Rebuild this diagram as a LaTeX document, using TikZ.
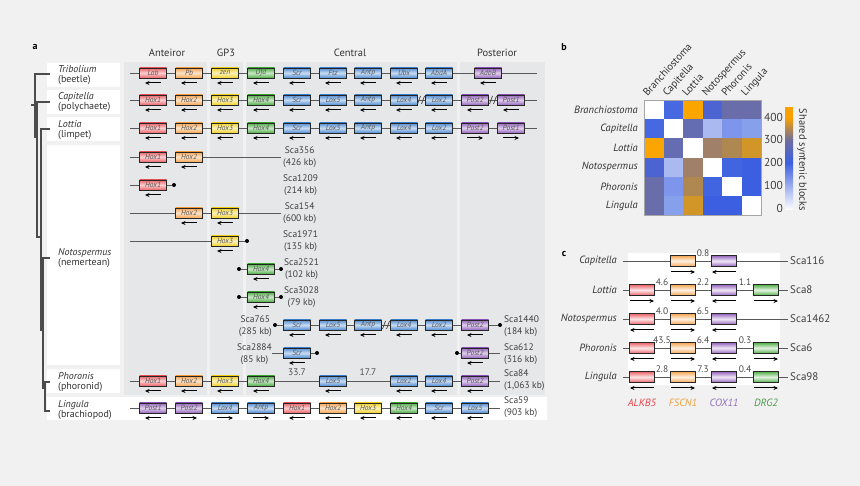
\documentclass[tikz,border=0pt]{standalone}
\usepackage{fontspec}
\setmainfont{PT Sans}
\usepackage{tikz}
\usetikzlibrary{arrows.meta,positioning,calc}

\definecolor{bgc}{RGB}{241,241,241}
\definecolor{colbg}{RGB}{229,231,232}
\definecolor{hxred}{RGB}{236,98,104}
\definecolor{hxorange}{RGB}{245,165,80}
\definecolor{hxyellow}{RGB}{240,210,40}
\definecolor{hxgreen}{RGB}{80,175,70}
\definecolor{hxblue}{RGB}{80,140,210}
\definecolor{hxpurple}{RGB}{150,100,190}
\definecolor{hmB}{RGB}{70,105,225}
\definecolor{hmO}{RGB}{250,165,0}
\definecolor{hmN}{RGB}{75,100,210}
\definecolor{hmS}{RGB}{105,110,170}
\definecolor{hmSb}{RGB}{100,108,178}
\definecolor{hmL}{RGB}{170,185,240}
\definecolor{hmM}{RGB}{125,150,235}
\definecolor{hmMb}{RGB}{135,160,235}
\definecolor{hmBr}{RGB}{160,128,105}
\definecolor{hmT}{RGB}{175,135,80}
\definecolor{hmOc}{RGB}{210,150,40}
\definecolor{hmBb}{RGB}{65,100,225}
\definecolor{hmBc}{RGB}{60,95,225}
\definecolor{cbB}{RGB}{60,95,225}
\definecolor{cbS}{RGB}{110,110,160}
\definecolor{cbO}{RGB}{250,160,0}
\definecolor{nmred}{RGB}{232,66,74}
\definecolor{nmorange}{RGB}{240,160,64}
\definecolor{nmpurple}{RGB}{144,112,192}
\definecolor{nmgreen}{RGB}{74,154,74}

\tikzset{
  gbox/.style={draw=black!85, line width=0.9pt, minimum width=27pt, minimum height=10pt,
    inner sep=0pt, font=\fontsize{7.5}{8}\selectfont\itshape, text=black!65},
  hxa/.style={gbox, top color=hxred, bottom color=hxred, middle color=hxred!30!white},
  hxb/.style={gbox, top color=hxorange, bottom color=hxorange, middle color=hxorange!30!white},
  hxc/.style={gbox, top color=hxyellow, bottom color=hxyellow, middle color=hxyellow!30!white},
  hxd/.style={gbox, top color=hxgreen, bottom color=hxgreen, middle color=hxgreen!30!white},
  hxe/.style={gbox, top color=hxblue, bottom color=hxblue, middle color=hxblue!30!white},
  hxf/.style={gbox, top color=hxpurple, bottom color=hxpurple, middle color=hxpurple!30!white},
  cbox/.style={gbox, minimum width=25pt, minimum height=11pt},
  cak/.style={cbox, top color=hxred, bottom color=hxred, middle color=hxred!15!white},
  cfs/.style={cbox, top color=hxorange, bottom color=hxorange, middle color=hxorange!15!white},
  ccx/.style={cbox, top color=hxpurple, bottom color=hxpurple, middle color=hxpurple!15!white},
  cdr/.style={cbox, top color=hxgreen, bottom color=hxgreen, middle color=hxgreen!15!white},
  lft/.style={{Stealth[length=4.5pt,width=4pt]}-, line width=1pt},
  rgt/.style={-{Stealth[length=4.5pt,width=4pt]}, line width=1pt},
  bb/.style={draw=black!65, line width=0.9pt},
  brkline/.style={draw=black!75, line width=0.7pt},
  enddot/.style={circle, fill=black, inner sep=0pt, minimum size=4pt},
  tree/.style={draw=black!70, line width=1.1pt},
  sp/.style={anchor=west, align=left, inner sep=0pt, font=\fontsize{10}{10.5}\selectfont, text=black!80},
  hdr/.style={font=\fontsize{10.5}{12}\selectfont, text=black!80},
  sca/.style={inner sep=0pt, align=center, font=\fontsize{9.5}{12}\selectfont, text=black!75},
  num/.style={inner sep=0pt, font=\fontsize{9.5}{11}\selectfont, text=black!70},
  plbl/.style={font=\bfseries\fontsize{10}{12}\selectfont},
  rowl/.style={anchor=east, inner sep=0pt, font=\fontsize{10.5}{12}\selectfont\itshape, text=black!80},
  coll/.style={anchor=base west, rotate=48, inner sep=0pt, font=\fontsize{10.5}{12}\selectfont, text=black!80},
}

\newcommand{\generow}[3]{%
  \foreach \gx/\gs/\gl/\gd [count=\gj] in {#3}{%
    \node[\gs] (#1\gj) at (\gx,#2) {\gl};
    \draw[\gd] ([shift={(-8,10)}]#1\gj.center) -- ([shift={(8,10)}]#1\gj.center);
  }}
\newcommand{\cgrow}[3]{%
  \foreach \gx/\gs/\gd [count=\gj] in {#3}{%
    \node[\gs] (#1\gj) at (\gx,#2) {};
    \draw[\gd] ([shift={(-12,11)}]#1\gj.center) -- ([shift={(12,11)}]#1\gj.center);
  }}
\newcommand{\brk}[2]{\draw[brkline] (#1-3.5,#2+4) -- (#1-0.5,#2-4) (#1+0.5,#2+4) -- (#1+3.5,#2-4);}

\begin{document}
\begin{tikzpicture}[x=1pt,y=-1pt]
\useasboundingbox[fill=bgc] (0,0) rectangle (860,486);

% panel a
\node[plbl] (lbla) at (35,47) {a};
\fill[colbg] (124,62) rectangle (207,395);
\fill[colbg] (210,62) rectangle (243,395);
\fill[colbg] (246,62) rectangle (457,395);
\fill[colbg] (460,62) rectangle (545,395);
\fill[white] (47,397) rectangle (547,420);
\foreach \ya/\yb in {63/87,90/114,117/141,145/365,369/393}
  \fill[white] (47,\ya) rectangle (120,\yb);

\node[hdr] (ant) at (167,53) {Anteiror};
\node[hdr] (gp3) at (226,53) {GP3};
\node[hdr] (cen) at (350,53) {Central};
\node[hdr] (pos) at (497,53) {Posterior};

\node[sp] (tri) at (58,75) {\textit{Tribolium}\\(beetle)};
\node[sp] (cap) at (58,102) {\textit{Capitella}\\(polychaete)};
\node[sp] (lot) at (58,130) {\textit{Lottia}\\(limpet)};
\node[sp] (not) at (58,258) {\textit{Notospermus}\\(nemertean)};
\node[sp] (pho) at (58,382) {\textit{Phoronis}\\(phoronid)};
\node[sp] (lin) at (58,410) {\textit{Lingula}\\(brachiopod)};

\draw[tree] (31,105) -- (35,105) (50,74) -| (35,137) -- (37,137);
\draw[tree] (50,102) -| (37,237) -- (41,237);
\draw[tree] (50,129) -| (41,330) -- (43,330);
\draw[tree] (50,258) -| (43,388) -- (45,388);
\draw[tree] (50,382) -| (45,411) -- (50,411);

% Tribolium
\coordinate (tr0) at (130,73); \coordinate (trE) at (537,73);
\draw[bb] (tr0) -- (trE);
\generow{tr}{73}{153/hxa/Lab/lft, 189/hxb/Pb/lft, 225/hxc/zen/lft, 261/hxd/Dfd/lft, 297/hxe/Scr/lft,
  333/hxe/Ftz/lft, 368/hxe/Antp/lft, 404/hxe/Ubx/lft, 439/hxe/AbdA/lft, 488/hxf/AdbB/lft}

% Capitella
\coordinate (ca0) at (130,100); \coordinate (caE) at (537,100);
\draw[bb] (ca0) -- (caE);
\generow{ca}{100}{153/hxa/Hox1/lft, 189/hxb/Hox2/lft, 225/hxc/Hox3/lft, 261/hxd/Hox4/lft, 297/hxe/Scr/lft,
  333/hxe/Lox5/lft, 368/hxe/Antp/lft, 404/hxe/Lox4/lft, 439/hxe/Lox2/lft, 475/hxf/Post2/lft, 511/hxf/Post1/lft}
\brk{421}{100}
\brk{493}{100}

% Lottia
\coordinate (lo0) at (130,128); \coordinate (loE) at (537,128);
\draw[bb] (lo0) -- (loE);
\generow{lo}{128}{153/hxa/Hox1/lft, 189/hxb/Hox2/lft, 225/hxc/Hox3/lft, 261/hxd/Hox4/lft, 297/hxe/Scr/lft,
  333/hxe/Lox5/lft, 368/hxe/Antp/lft, 404/hxe/Lox4/lft, 439/hxe/Lox2/lft, 475/hxf/Post2/rgt, 511/hxf/Post1/rgt}

% Notospermus scaffolds
\coordinate (sa0) at (130,157); \coordinate (saE) at (281,157);
\draw[bb] (sa0) -- (saE);
\generow{sa}{157}{153/hxa/Hox1/lft, 189/hxb/Hox2/lft}
\node[sca, anchor=west] (saL) at (283,157) {Sca356\\(426 kb)};

\coordinate (sb0) at (130,185); \node[enddot] (sbE) at (174,185) {};
\draw[bb] (sb0) -- (sbE);
\generow{sb}{185}{153/hxa/Hox1/lft}
\node[sca, anchor=west] (sbL) at (283,185) {Sca1209\\(214 kb)};

\coordinate (sc0) at (130,213); \coordinate (scE) at (281,213);
\draw[bb] (sc0) -- (scE);
\generow{sc}{213}{189/hxb/Hox2/lft, 225/hxc/Hox3/lft}
\node[sca, anchor=west] (scL) at (283,213) {Sca154\\(600 kb)};

\coordinate (sd0) at (130,241); \node[enddot] (sdE) at (247,241) {};
\draw[bb] (sd0) -- (sdE);
\generow{sd}{241}{225/hxc/Hox3/lft}
\node[sca, anchor=west] (sdL) at (283,241) {Sca1971\\(135 kb)};

\node[enddot] (se0) at (239,269) {}; \node[enddot] (seE) at (281,269) {};
\draw[bb] (se0) -- (seE);
\generow{se}{269}{261/hxd/Hox4/lft}
\node[sca, anchor=west] (seL) at (284,269) {Sca2521\\(102 kb)};

\node[enddot] (sf0) at (239,297) {}; \node[enddot] (sfE) at (281,297) {};
\draw[bb] (sf0) -- (sfE);
\generow{sf}{297}{261/hxd/Hox4/lft}
\node[sca, anchor=west] (sfL) at (284,297) {Sca3028\\(79 kb)};

\node[enddot] (sg0) at (275,325) {}; \node[enddot] (sgE) at (500,325) {};
\draw[bb] (sg0) -- (sgE);
\generow{sg}{325}{297/hxe/Scr/lft, 333/hxe/Lox5/lft, 368/hxe/Antp/lft, 404/hxe/Lox4/lft, 439/hxe/Lox2/lft, 475/hxf/Post2/lft}
\brk{386}{325}
\node[sca, anchor=east] (sgL) at (272,326) {Sca765\\(285 kb)};
\node[sca, anchor=west, align=left] (sgR) at (504,326) {Sca1440\\(184 kb)};

\coordinate (sh0) at (272,353); \node[enddot] (shE) at (317,353) {};
\draw[bb] (sh0) -- (shE);
\node[enddot] (si0) at (457,353) {}; \coordinate (siE) at (500,353);
\draw[bb] (si0) -- (siE);
\generow{sh}{353}{297/hxe/Scr/lft}
\generow{si}{353}{475/hxf/Post2/lft}
\node[sca, anchor=east] (shL) at (272,354) {Sca2884\\(85 kb)};
\node[sca, anchor=west, align=left] (siR) at (504,354) {Sca612\\(316 kb)};

% Phoronis
\coordinate (ph0) at (130,381); \coordinate (phE) at (500,381);
\draw[bb] (ph0) -- (phE);
\generow{ph}{381}{153/hxa/Hox1/lft, 189/hxb/Hox2/lft, 225/hxc/Hox3/lft, 261/hxd/Hox4/lft,
  333/hxe/Lox5/lft, 404/hxe/Lox2/lft, 439/hxe/Lox4/lft, 475/hxf/Post2/lft}
\node[num] (phd1) at (297,372) {33.7};
\node[num] (phd2) at (368,372) {17.7};
\node[sca, anchor=west, align=left] (phR) at (504,380) {Sca84\\(1,063 kb)};

% Lingula
\coordinate (li0) at (130,408); \coordinate (liE) at (500,408);
\draw[bb] (li0) -- (liE);
\generow{li}{408}{153/hxf/Post1/lft, 189/hxf/Post2/rgt, 225/hxe/Lox4/rgt, 261/hxe/Antp/rgt, 297/hxa/Hox1/lft,
  333/hxb/Hox2/lft, 368/hxc/Hox3/lft, 404/hxd/Hox4/lft, 439/hxe/Scr/lft, 475/hxe/Lox5/lft}
\node[sca, anchor=west, align=left] (liR) at (504,407) {Sca59\\(903 kb)};

% panel b
\node[plbl] (lblb) at (564,47) {b};
\foreach \rc [count=\i] in {{white,hmB,hmO,hmN,hmS,hmS},{hmB,white,hmSb,hmL,hmM,hmMb},
    {hmO,hmSb,white,hmBr,hmT,hmOc},{hmN,hmL,hmBr,white,hmBb,hmBc},
    {hmS,hmM,hmT,hmBb,white,hmBc},{hmS,hmMb,hmOc,hmBc,hmBc,white}}{
  \foreach \cc [count=\j] in \rc
    \fill[\cc] (624.4+19.6*\j,80.8+19.2*\i) rectangle ++(19.6,19.2);
}
\draw[black!35, line width=0.6pt] (644,100) rectangle (761.6,215.2);
\foreach \nm [count=\i] in {Branchiostoma,Capitella,Lottia,Notospermus,Phoronis,Lingula}{
  \node[rowl] (br\i) at (638,90.4+19.2*\i) {\nm};
  \node[coll] (bc\i) at (628+19.6*\i,97) {\nm};
}
\shade[bottom color=white, top color=cbB] (785,210) rectangle (793,162.5);
\shade[bottom color=cbB, top color=cbS] (785,162.5) rectangle (793,140);
\shade[bottom color=cbS, top color=cbO] (785,140) rectangle (793,118);
\fill[cbO] (785,118) rectangle (793,107);
\foreach \v in {0,100,200,300,400}
  \node[anchor=east, inner sep=0pt, font=\fontsize{11.5}{12}\selectfont, text=black!75] (cb\v) at (783,208-0.2275*\v) {\v};
\node[rotate=-90, font=\fontsize{10.5}{12}\selectfont, text=black!80] (cbt) at (802,160) {Shared syntenic blocks};

% panel c
\node[plbl] (lblc) at (564,254) {c};
\fill[white] (628,253) rectangle (780,385);
\foreach \rn/\ry/\spn/\scn in {cp/261/Capitella/Sca116, ct/290/Lottia/Sca8, cn/319/Notospermus/Sca1462,
    cf/348/Phoronis/Sca6, cl/377/Lingula/Sca98}{
  \node[rowl] (\rn L) at (617,\ry) {\spn};
  \node[anchor=west, inner sep=0pt, font=\fontsize{11}{12}\selectfont, text=black!75] (\rn R) at (790,\ry) {\scn};
  \coordinate (\rn0) at (623,\ry); \coordinate (\rn9) at (788,\ry);
  \draw[bb] (\rn0) -- (\rn9);
}
\cgrow{cp}{261}{683/cfs/rgt, 724/ccx/lft}
\cgrow{ct}{290}{642/cak/rgt, 683/cfs/rgt, 724/ccx/lft, 766/cdr/rgt}
\cgrow{cn}{319}{642/cak/lft, 683/cfs/rgt, 724/ccx/lft}
\cgrow{cf}{348}{642/cak/lft, 683/cfs/rgt, 724/ccx/lft, 766/cdr/rgt}
\cgrow{cl}{377}{642/cak/lft, 683/cfs/rgt, 724/ccx/lft, 766/cdr/rgt}
\foreach \dx/\dy/\dv [count=\k] in {703/253/0.8, 662/282/4.6, 703/282/2.2, 745/282/1.1, 662/311/4.0, 703/311/6.5,
    662/340/43.5, 703/340/6.4, 745/340/0.3, 662/369/2.8, 703/369/7.3, 745/369/0.4}
  \node[num] (cd\k) at (\dx,\dy) {\dv};
\node[font=\fontsize{10.5}{12}\selectfont\itshape, text=nmred] (gak) at (642,403) {ALKB5};
\node[font=\fontsize{10.5}{12}\selectfont\itshape, text=nmorange] (gfs) at (683,403) {FSCN1};
\node[font=\fontsize{10.5}{12}\selectfont\itshape, text=nmpurple] (gcx) at (724,403) {COX11};
\node[font=\fontsize{10.5}{12}\selectfont\itshape, text=nmgreen] (gdr) at (766,403) {DRG2};
\end{tikzpicture}
\end{document}
